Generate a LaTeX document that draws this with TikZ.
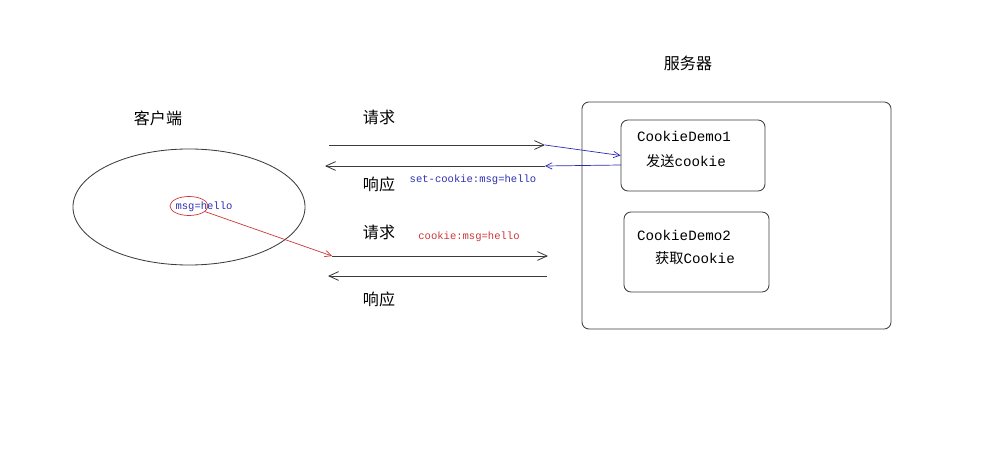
\documentclass[tikz,border=0pt]{standalone}
\usepackage{fontspec}
\setmonofont{Liberation Mono}
\newfontfamily\cjk{Noto Sans CJK SC}
\usetikzlibrary{arrows.meta, shapes.geometric, positioning}

\definecolor{lineagray}{RGB}{60,60,60}
\definecolor{msgblue}{RGB}{45,45,180}
\definecolor{msgred}{RGB}{205,55,55}

\begin{document}
\begin{tikzpicture}[x=0.025cm, y=-0.025cm, font=\ttfamily,
    etichetta/.style={font=\cjk\fontsize{11.4}{13}\selectfont, inner sep=0pt},
    scatola/.style={draw=lineagray, line width=0.6pt, rounded corners=5pt},
    testobox/.style={font=\ttfamily\fontsize{10.1}{12}\selectfont, inner sep=0pt},
    piccolo/.style={font=\ttfamily\fontsize{7.5}{9}\selectfont, inner sep=0pt},
    freccia/.style={draw=lineagray, line width=0.6pt, -{Straight Barb[length=2.4mm,width=2.2mm]}},
    frecciablu/.style={draw=msgblue, line width=0.5pt, -{Straight Barb[length=1.6mm,width=1.6mm]}},
    frecciarossa/.style={draw=msgred, line width=0.5pt, -{Straight Barb[length=1.6mm,width=1.6mm]}}]
    \useasboundingbox (0,0) rectangle (1004,451);

    % ==========================================
    % CLIENT
    % ==========================================
    \node [etichetta] (clientlabel) at (158,118) {客户端};
    \node [draw=lineagray, line width=0.6pt, ellipse, minimum width=5.8cm, minimum height=2.9cm] (client) at (189,207) {};
    \node [draw=msgred, line width=0.5pt, ellipse, minimum width=0.95cm, minimum height=0.475cm, inner sep=0pt] (msg) at (189,206) {};
    \node [piccolo, text=msgblue] (msgtext) at (204,207) {msg=hello};

    % ==========================================
    % SERVER
    % ==========================================
    \node [etichetta] (serverlabel) at (688,63) {服务器};
    \node [scatola, minimum width=7.725cm, minimum height=5.675cm] (server) at (736.5,215.5) {};
    \node [scatola, minimum width=3.6cm, minimum height=1.775cm] (demo1) at (693,155.5) {};
    \node [testobox] (demo1a) at (684,136) {CookieDemo1};
    \node [testobox] (demo1b) at (686,161) {{\cjk 发送}cookie};
    \node [scatola, minimum width=3.625cm, minimum height=2cm] (demo2) at (696.5,252) {};
    \node [testobox] (demo2a) at (684,235) {CookieDemo2};
    \node [testobox] (demo2b) at (695,258) {{\cjk 获取}Cookie};

    % ==========================================
    % PRIMA RICHIESTA / RISPOSTA
    % ==========================================
    \coordinate (req1s) at (329,145);
    \coordinate (req1e) at (545,145);
    \coordinate (resp1s) at (545,166);
    \coordinate (resp1e) at (325,166);
    \coordinate (demo1r) at (621,165);
    \draw [freccia] (req1s) -- (req1e);
    \draw [frecciablu] (req1e) -- (demo1.west);
    \draw [frecciablu] (demo1r) -- (resp1s);
    \draw [freccia] (resp1s) -- (resp1e);
    \node [etichetta] (req1label) at (379,117) {请求};
    \node [etichetta] (resp1label) at (379,184) {响应};
    \node [piccolo, text=msgblue] (setcookie) at (473,180) {set-cookie:msg=hello};

    % ==========================================
    % SECONDA RICHIESTA / RISPOSTA
    % ==========================================
    \coordinate (req2s) at (332,256);
    \coordinate (req2e) at (548,256);
    \coordinate (resp2s) at (547,276);
    \coordinate (resp2e) at (328,276);
    \draw [freccia] (req2s) -- (req2e);
    \draw [freccia] (resp2s) -- (resp2e);
    \draw [frecciarossa] (msg) -- (req2s);
    \node [etichetta] (req2label) at (379,232) {请求};
    \node [etichetta] (resp2label) at (379,299) {响应};
    \node [piccolo, text=msgred] (cookie) at (469,237) {cookie:msg=hello};

\end{tikzpicture}
\end{document}
